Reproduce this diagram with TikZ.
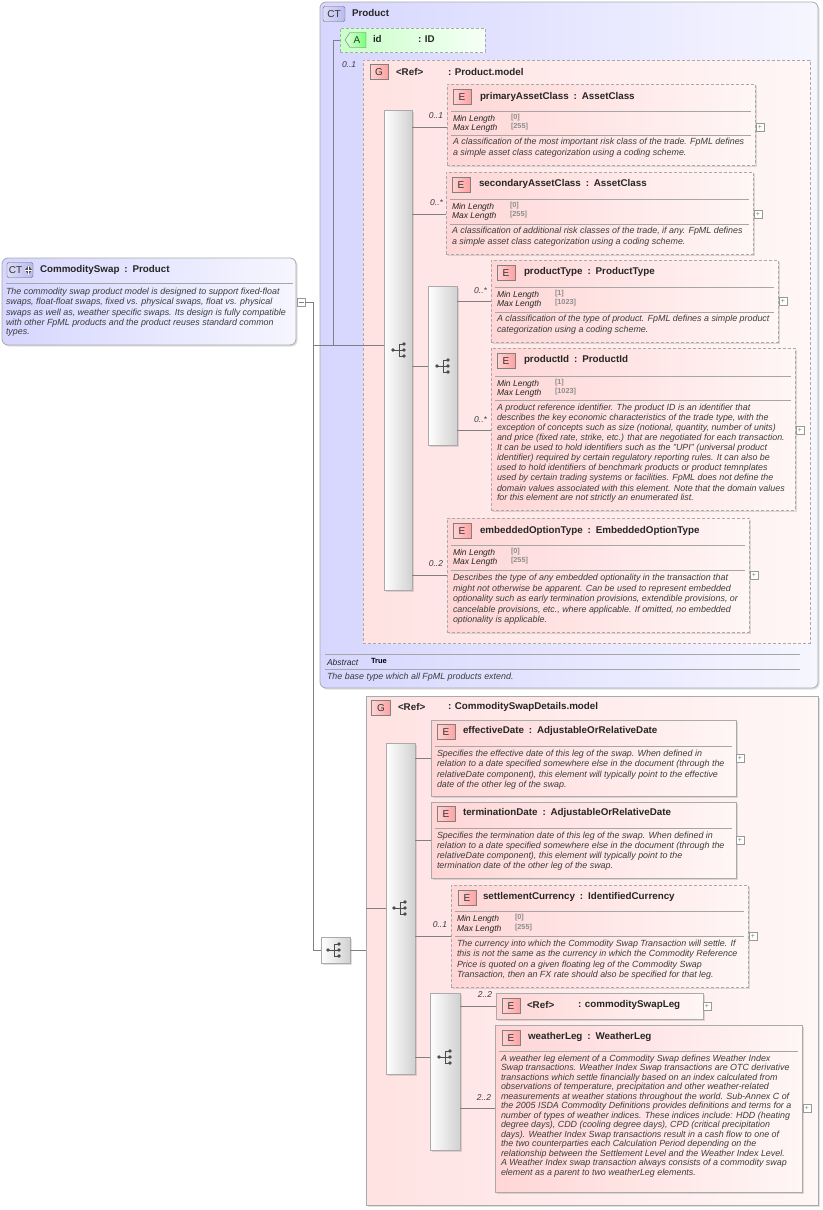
\documentclass[tikz,border=0pt]{standalone}
\usepackage{fontspec}
\setmainfont{Liberation Sans}
\usetikzlibrary{shadows}
\definecolor{ctl}{RGB}{214,214,255}
\definecolor{ctr}{RGB}{246,246,255}
\definecolor{pkl}{RGB}{255,214,214}
\definecolor{pkr}{RGB}{255,246,246}
\definecolor{grl}{RGB}{200,255,200}
\definecolor{grr}{RGB}{246,255,246}
\definecolor{bord}{RGB}{170,170,170}
\definecolor{desc}{RGB}{60,60,60}
\definecolor{badger}{RGB}{255,160,160}
\definecolor{badgeb}{RGB}{185,185,240}
\tikzset{
  every node/.style={inner sep=0,outer sep=0},
  ebox/.style={draw=bord,line width=0.8pt,left color=pkl,right color=pkr,drop shadow={shadow xshift=1.5pt,shadow yshift=-1.5pt,opacity=0.25}},
  dbox/.style={ebox,dashed,dash pattern=on 3pt off 2pt},
  grp/.style={draw=bord,line width=0.8pt,left color=pkl!70,right color=pkr},
  ctbox/.style={draw=bord,line width=0.8pt,rounded corners=6pt,left color=ctl,right color=ctr,drop shadow={shadow xshift=1.5pt,shadow yshift=-1.5pt,opacity=0.25}},
  bar/.style={draw=bord,left color=white,right color=black!18,drop shadow={shadow xshift=1.5pt,shadow yshift=-1.5pt,opacity=0.25}},
  conn/.style={draw=black!50,line width=0.5pt},
  ttl/.style={anchor=west,font=\fontsize{9.8}{11}\selectfont\bfseries,text=black!85},
  dtx/.style={anchor=west,font=\fontsize{8.9}{10}\selectfont\itshape,text=desc},
  mult/.style={anchor=east,font=\fontsize{8.5}{10}\selectfont\itshape,text=desc},
  lbl/.style={anchor=west,font=\fontsize{8.5}{10}\selectfont\itshape,text=black!85},
  val/.style={anchor=west,font=\fontsize{7.3}{8}\selectfont\bfseries,text=black!45},
  bdg/.style={draw=black!50,left color=badger!45,right color=badger,minimum width=18pt,minimum height=15pt,font=\fontsize{10}{11}\selectfont,text=black!80},
}
\newcommand\bx[6]{\node[#6,minimum width={(#4-#2)*1pt},minimum height={(#5-#3)*1pt}] (#1) at ({(#2+#4)/2},{(#3+#5)/2}) {};}
\newcommand\pl[3]{\node[draw=black!40,fill=white,minimum width=8pt,minimum height=8pt,font=\fontsize{7}{7}\selectfont,text=black!50] (#1) at (#2,#3) {+};}
\newcommand\seqicon[2]{%
  \fill[black!70] (#1-6,#2) circle (1.9);
  \draw[black!70,line width=0.9pt] (#1-6,#2)--(#1,#2) (#1+5,#2-6)--(#1,#2-6)--(#1,#2+6)--(#1+5,#2+6) (#1,#2)--(#1+5,#2);
  \fill[black!70] (#1+5,#2-6) circle (1.9) (#1+5,#2) circle (1.9) (#1+5,#2+6) circle (1.9);}
\newcommand\ebadge[3]{\node[bdg] (#1) at (#2,#3) {E};}
\begin{document}
\begin{tikzpicture}[x=1pt,y=-1pt]
\useasboundingbox (0,0) rectangle (822,1210);
\fill[white] (0,0) rectangle (822,1210);

\coordinate (j1) at (313,302);
\coordinate (j2) at (313,345);
\coordinate (j3) at (313,950);
\coordinate (ja) at (333,40);
\coordinate (jb) at (333,345);

% ---- CommoditySwap ----
\bx{cs}{2}{258}{296}{345}{ctbox}
\node[draw=black!60,left color=badgeb!50,right color=badgeb,rounded corners=2pt,minimum width=26pt,minimum height=15pt,font=\fontsize{10}{11}\selectfont,text=black!80,text width=24pt,align=left] (csb) at (20,270) {\hspace{1pt}CT};
\fill[black!70] (28.5,265.5) -- (32,270) -- (28.5,274.5) -- (25,270) -- cycle;
\draw[white,line width=0.6pt] (25,270)--(32,270) (28.5,265.5)--(28.5,274.5);
\node[ttl] at (40,270) {CommoditySwap\enspace:\enspace Product};
\draw[black!35] (6,283) -- (293,283);
\node[dtx] at (6,292) {The commodity swap product model is designed to support fixed-float};
\node[dtx] at (6,302) {swaps, float-float swaps, fixed vs. physical swaps, float vs. physical};
\node[dtx] at (6,313) {swaps as well as, weather specific swaps. Its design is fully compatible};
\node[dtx] at (6,323) {with other FpML products and the product reuses standard common};
\node[dtx] at (6,333) {types.};
\node[draw=black!40,fill=white,minimum width=8pt,minimum height=8pt] (csm) at (301,302) {};
\draw[black!50] (298.5,302)--(303.5,302);
\draw[conn] (csm.east) -- (j1) -- (j3);

% ---- Product CT ----
\bx{prod}{320}{2}{818}{688}{ctbox}
\node[draw=black!60,left color=badgeb!50,right color=badgeb,rounded corners=2pt,minimum width=22pt,minimum height=15pt,font=\fontsize{10}{11}\selectfont,text=black!80] (pb) at (334,14) {CT};
\node[ttl] at (352,13) {Product};
\draw[conn] (j2) -- (jb) -- (ja);

% id attribute
\bx{idb}{340}{28}{485}{52}{draw=bord,dashed,dash pattern=on 3pt off 2pt,left color=grl,right color=grr}
\draw[black!60,left color=grl!60,right color=green!40!grl] (345,40) -- (350,32.5) -- (366,32.5) -- (366,47.5) -- (350,47.5) -- cycle;
\node[font=\fontsize{10}{11}\selectfont,text=black!80] (ida) at (357,40) {A};
\node[ttl] at (373,39) {id};
\node[ttl] at (418,39) {: ID};
\draw[conn] (ja) -- (idb.west);

% Product.model group
\bx{pm}{363}{60}{810}{643}{grp,dashed,dash pattern=on 3pt off 2pt}
\node[mult,anchor=west] at (342,65) {0..1};
\node[bdg] (pmg) at (379,72) {G};
\node[ttl] at (396,72) {<Ref>};
\node[ttl] at (448,72) {: Product.model};
\bx{s1}{384}{110}{412}{590}{bar}
\seqicon{399}{350}
\draw[conn] (jb) -- (s1.west |- jb);
\draw[conn] (412,127) -- (447,127);
\draw[conn] (412,214) -- (446,214);
\draw[conn] (412,366) -- (428,366);
\draw[conn] (412,575) -- (447,575);

% primaryAssetClass
\bx{e1}{447}{84}{755}{165}{dbox}
\ebadge{e1b}{462}{97}
\node[ttl] at (480,97) {primaryAssetClass\enspace:\enspace AssetClass};
\draw[black!35] (451,111) -- (751,111);
\node[lbl] at (453,119) {Min Length}; \node[val] at (511,118) {[0]};
\node[lbl] at (453,128) {Max Length}; \node[val] at (511,127) {[255]};
\draw[black!35] (451,135) -- (751,135);
\node[dtx] at (453,142) {A classification of the most important risk class of the trade. FpML defines};
\node[dtx] at (453,153) {a simple asset class categorization using a coding scheme.};
\pl{e1p}{760}{127}
\node[mult] at (443,116) {0..1};

% secondaryAssetClass
\bx{e2}{446}{172}{753}{254}{dbox}
\ebadge{e2b}{461}{185}
\node[ttl] at (479,184) {secondaryAssetClass\enspace:\enspace AssetClass};
\draw[black!35] (450,199) -- (749,199);
\node[lbl] at (452,207) {Min Length}; \node[val] at (510,206) {[0]};
\node[lbl] at (452,216) {Max Length}; \node[val] at (510,215) {[255]};
\draw[black!35] (450,224) -- (749,224);
\node[dtx] at (452,231) {A classification of additional risk classes of the trade, if any. FpML defines};
\node[dtx] at (452,242) {a simple asset class categorization using a coding scheme.};
\pl{e2p}{758}{214}
\node[mult] at (443,203) {0..*};

% inner sequence
\bx{s2}{428}{286}{457}{445}{bar}
\seqicon{443}{366}
\draw[conn] (457,301) -- (491,301);
\draw[conn] (457,430) -- (491,430);

% productType
\bx{e3}{491}{260}{778}{342}{dbox}
\ebadge{e3b}{506}{273}
\node[ttl] at (524,272) {productType\enspace:\enspace ProductType};
\draw[black!35] (495,287) -- (774,287);
\node[lbl] at (497,295) {Min Length}; \node[val] at (555,294) {[1]};
\node[lbl] at (497,304) {Max Length}; \node[val] at (555,303) {[1023]};
\draw[black!35] (495,312) -- (774,312);
\node[dtx] at (497,319) {A classification of the type of product. FpML defines a simple product};
\node[dtx] at (497,330) {categorization using a coding scheme.};
\pl{e3p}{783}{301}
\node[mult] at (487,291) {0..*};

% productId
\bx{e4}{491}{348}{795}{510}{dbox}
\ebadge{e4b}{506}{361}
\node[ttl] at (524,360) {productId\enspace:\enspace ProductId};
\draw[black!35] (495,376) -- (791,376);
\node[lbl] at (497,384) {Min Length}; \node[val] at (555,383) {[1]};
\node[lbl] at (497,393) {Max Length}; \node[val] at (555,392) {[1023]};
\draw[black!35] (495,400) -- (791,400);
\node[dtx] at (497,408) {A product reference identifier. The product ID is an identifier that};
\node[dtx] at (497,418) {describes the key economic characteristics of the trade type, with the};
\node[dtx] at (497,428) {exception of concepts such as size (notional, quantity, number of units)};
\node[dtx] at (497,438) {and price (fixed rate, strike, etc.) that are negotiated for each transaction.};
\node[dtx] at (497,448) {It can be used to hold identifiers such as the "UPI" (universal product};
\node[dtx] at (497,458) {identifier) required by certain regulatory reporting rules. It can also be};
\node[dtx] at (497,468) {used to hold identifiers of benchmark products or product temnplates};
\node[dtx] at (497,478) {used by certain trading systems or facilities. FpML does not define the};
\node[dtx] at (497,488) {domain values associated with this element. Note that the domain values};
\node[dtx] at (497,498) {for this element are not strictly an enumerated list.};
\pl{e4p}{800}{430}
\node[mult] at (487,420) {0..*};

% embeddedOptionType
\bx{e5}{447}{518}{749}{632}{dbox}
\ebadge{e5b}{462}{531}
\node[ttl] at (480,531) {embeddedOptionType\enspace:\enspace EmbeddedOptionType};
\draw[black!35] (451,545) -- (745,545);
\node[lbl] at (453,553) {Min Length}; \node[val] at (511,552) {[0]};
\node[lbl] at (453,562) {Max Length}; \node[val] at (511,561) {[255]};
\draw[black!35] (451,570) -- (745,570);
\node[dtx] at (453,578) {Describes the type of any embedded optionality in the transaction that};
\node[dtx] at (453,589) {might not otherwise be apparent. Can be used to represent embedded};
\node[dtx] at (453,599) {optionality such as early termination provisions, extendible provisions, or};
\node[dtx] at (453,610) {cancelable provisions, etc., where applicable. If omitted, no embedded};
\node[dtx] at (453,620) {optionality is applicable.};
\pl{e5p}{754}{575}
\node[mult] at (443,564) {0..2};

% abstract
\draw[black!35] (325,654) -- (800,654);
\node[lbl] at (327,662) {Abstract};
\node[anchor=west,font=\fontsize{7.5}{8}\selectfont\bfseries] at (371,661) {True};
\draw[black!35] (325,669) -- (800,669);
\node[dtx] at (327,677) {The base type which all FpML products extend.};

% ---- CommoditySwapDetails.model ----
\bx{ic}{321}{937}{350}{963}{bar}
\seqicon{334}{950}
\draw[conn] (j3) -- (ic.west);
\bx{cd}{366}{696}{818}{1205}{grp,drop shadow={shadow xshift=1.5pt,shadow yshift=-1.5pt,opacity=0.25}}
\draw[conn] (ic.east) -- (cd.west |- ic.east);
\node[bdg,minimum width=19pt] (cdg) at (381,708) {G};
\node[ttl] at (398,707) {<Ref>};
\node[ttl] at (448,707) {: CommoditySwapDetails.model};
\bx{s3}{386}{743}{415}{1074}{bar}
\seqicon{400}{908}
\draw[conn] (366,908) -- (386,908);
\draw[conn] (415,758) -- (431,758);
\draw[conn] (415,840) -- (431,840);
\draw[conn] (415,936) -- (451,936);
\draw[conn] (415,1057) -- (430,1057);

% effectiveDate
\bx{f1}{431}{720}{736}{796}{ebox}
\ebadge{f1b}{446}{732}
\node[ttl] at (463,731) {effectiveDate\enspace:\enspace AdjustableOrRelativeDate};
\draw[black!35] (435,746) -- (732,746);
\node[dtx] at (437,754) {Specifies the effective date of this leg of the swap. When defined in};
\node[dtx] at (437,764) {relation to a date specified somewhere else in the document (through the};
\node[dtx] at (437,775) {relativeDate component), this element will typically point to the effective};
\node[dtx] at (437,785) {date of the other leg of the swap.};
\pl{f1p}{740}{758}

% terminationDate
\bx{f2}{431}{802}{736}{878}{ebox}
\ebadge{f2b}{446}{814}
\node[ttl] at (463,813) {terminationDate\enspace:\enspace AdjustableOrRelativeDate};
\draw[black!35] (435,828) -- (732,828);
\node[dtx] at (437,836) {Specifies the termination date of this leg of the swap. When defined in};
\node[dtx] at (437,846) {relation to a date specified somewhere else in the document (through the};
\node[dtx] at (437,856) {relativeDate component), this element will typically point to the};
\node[dtx] at (437,866) {termination date of the other leg of the swap.};
\pl{f2p}{740}{840}

% settlementCurrency
\bx{f3}{451}{885}{748}{987}{dbox}
\ebadge{f3b}{467}{898}
\node[ttl] at (483,897) {settlementCurrency\enspace:\enspace IdentifiedCurrency};
\draw[black!35] (455,911) -- (744,911);
\node[lbl] at (457,919) {Min Length}; \node[val] at (515,918) {[0]};
\node[lbl] at (457,929) {Max Length}; \node[val] at (515,928) {[255]};
\draw[black!35] (455,936) -- (744,936);
\node[dtx] at (457,944) {The currency into which the Commodity Swap Transaction will settle. If};
\node[dtx] at (457,954) {this is not the same as the currency in which the Commodity Reference};
\node[dtx] at (457,965) {Price is quoted on a given floating leg of the Commodity Swap};
\node[dtx] at (457,975) {Transaction, then an FX rate should also be specified for that leg.};
\pl{f3p}{753}{936}
\node[mult] at (447,925) {0..1};

% inner sequence 2
\bx{s4}{430}{993}{460}{1150}{bar}
\seqicon{445}{1057}
\draw[conn] (460,1006) -- (496,1006);
\draw[conn] (460,1108) -- (495,1108);

% commoditySwapLeg
\bx{f4}{496}{993}{703}{1019}{ebox}
\ebadge{f4b}{511}{1006}
\node[ttl] at (527,1005) {<Ref>};
\node[ttl] at (578,1005) {: commoditySwapLeg};
\pl{f4p}{707}{1006}
\node[mult] at (492,995) {2..2};

% weatherLeg
\bx{f5}{495}{1025}{802}{1192}{ebox}
\ebadge{f5b}{511}{1038}
\node[ttl] at (528,1037) {weatherLeg\enspace:\enspace WeatherLeg}; 
\draw[black!35] (499,1051) -- (798,1051);
\node[dtx] at (501,1059) {A weather leg element of a Commodity Swap defines Weather Index};
\node[dtx] at (501,1068.5) {Swap transactions. Weather Index Swap transactions are OTC derivative};
\node[dtx] at (501,1078) {transactions which settle financially based on an index calculated from};
\node[dtx] at (501,1087.5) {observations of temperature, precipitation and other weather-related};
\node[dtx] at (501,1097) {measurements at weather stations throughout the world. Sub-Annex C of};
\node[dtx] at (501,1106.5) {the 2005 ISDA Commodity Definitions provides definitions and terms for a};
\node[dtx] at (501,1116) {number of types of weather indices. These indices include: HDD (heating};
\node[dtx] at (501,1125.5) {degree days), CDD (cooling degree days), CPD (critical precipitation};
\node[dtx] at (501,1135) {days). Weather Index Swap transactions result in a cash flow to one of};
\node[dtx] at (501,1144.5) {the two counterparties each Calculation Period depending on the};
\node[dtx] at (501,1154) {relationship between the Settlement Level and the Weather Index Level.};
\node[dtx] at (501,1163.5) {A Weather Index swap transaction always consists of a commodity swap};
\node[dtx] at (501,1173) {element as a parent to two weatherLeg elements.};
\pl{f5p}{807}{1108}
\node[mult] at (491,1098) {2..2};
\end{tikzpicture}
\end{document}
